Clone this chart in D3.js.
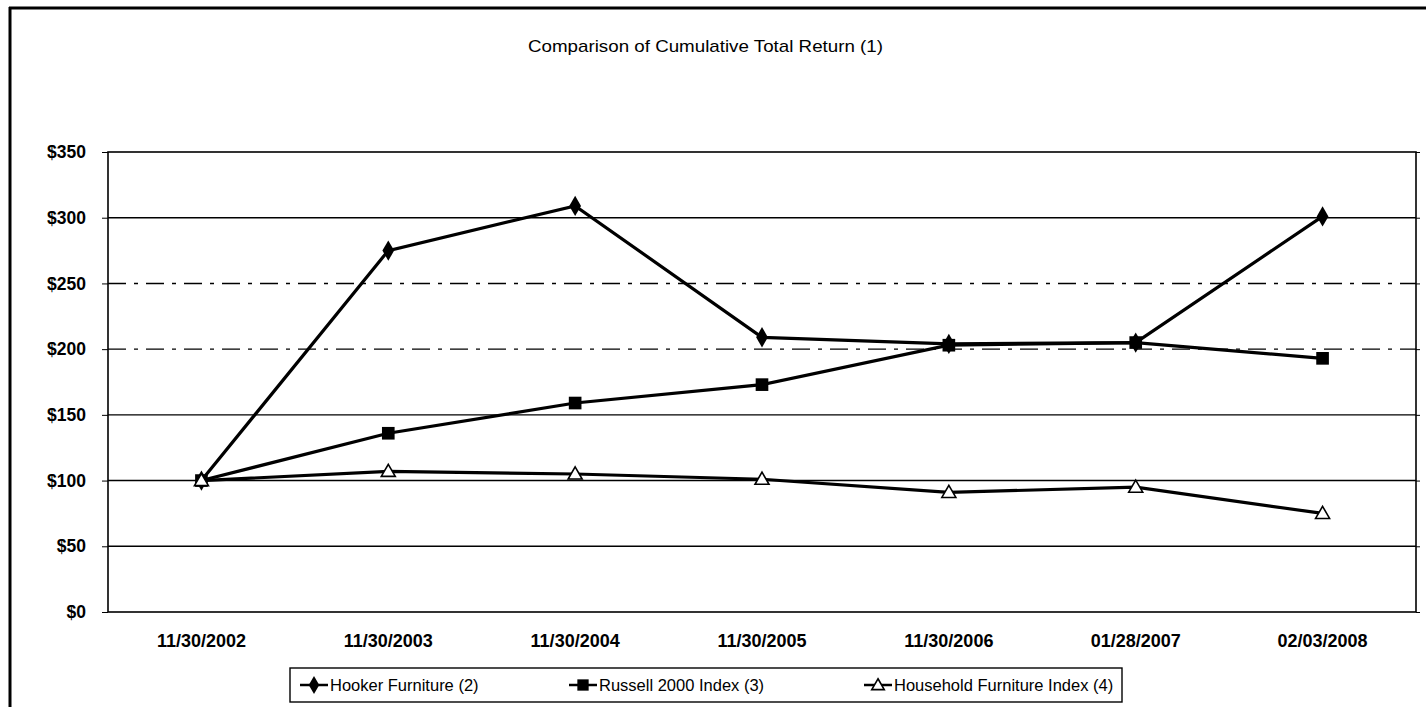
<!DOCTYPE html>
<html lang="en">
  <head>
    <meta charset="utf-8">
    <title>Comparison of Cumulative Total Return</title>
    <script src="https://d3js.org/d3.v7.js"></script>
    <style>
      body { margin: 0; background: white; }
      svg { display: block; }
      text { font-family: "Liberation Sans", Arial, sans-serif; fill: black; }
    </style>
  </head>

  <body>

  <script>

// data

  const dates = ["11/30/2002", "11/30/2003", "11/30/2004", "11/30/2005",
    "11/30/2006", "01/28/2007", "02/03/2008"];
  const hooker = [100, 275, 309, 209, 204, 205, 301];
  const russell = [100, 136, 159, 173, 203, 205, 193];
  const household = [100, 107, 105, 101, 91, 95, 75];
  const yTicks = [0, 50, 100, 150, 200, 250, 300, 350];
  const seriesNames = ["Hooker Furniture (2)", "Russell 2000 Index (3)", "Household Furniture Index (4)"];

  const seriesList = [
    {name: seriesNames[0], values: hooker, marker: "diamond"},
    {name: seriesNames[1], values: russell, marker: "square"},
    {name: seriesNames[2], values: household, marker: "triangle"}
  ];

  const w = 1426;
  const h = 707;
  const margin = {top: 152, right: 10, bottom: 95, left: 108};
  const innerWidth = w - margin.left - margin.right;
  const innerHeight = h - margin.top - margin.bottom;

  const xScale = d3.scaleBand()
      .domain(dates)
      .range([0, innerWidth]);

  const yScale = d3.scaleLinear()
      .domain([0, 350])
      .range([innerHeight, 0]);

  const svg = d3.select("body")
    .append("svg")
      .attr("width", w)
      .attr("height", h);

// outer frame (only top and left edges show in the scan)

  svg.append("line")
      .attr("x1", 9).attr("x2", w).attr("y1", 8).attr("y2", 8)
      .attr("stroke", "black").attr("stroke-width", 3);
  svg.append("line")
      .attr("x1", 10).attr("x2", 10).attr("y1", 7).attr("y2", h)
      .attr("stroke", "black").attr("stroke-width", 3);

  svg.append("text")
      .attr("x", 528)
      .attr("y", 52)
      .attr("textLength", 355)
      .attr("lengthAdjust", "spacingAndGlyphs")
      .attr("font-size", 17)
      .text("Comparison of Cumulative Total Return (1)");

  const plot = svg.append("g")
      .attr("transform", `translate (${margin.left}, ${margin.top})`);

// gridlines

  plot.append("g")
    .selectAll("line")
    .data(yTicks.filter(d => d > 0 && d < 350))
    .join("line")
      .attr("x1", 0)
      .attr("x2", innerWidth)
      .attr("y1", d => yScale(d))
      .attr("y2", d => yScale(d))
      .attr("stroke", "black")
      .attr("stroke-width", 1.4)
      .attr("stroke-dasharray", d => (d == 250 || d == 200) ? "18,8,4,8" : null);

  plot.append("rect")
      .attr("width", innerWidth)
      .attr("height", innerHeight)
      .attr("fill", "none")
      .attr("stroke", "black")
      .attr("stroke-width", 1.6);

// axes

  const yAxis = d3.axisLeft(yScale)
      .tickValues(yTicks)
      .tickSize(6)
      .tickPadding(16)
      .tickFormat(d => "$" + d);

  plot.append("g")
      .call(yAxis)
      .attr("font-family", null)
      .attr("font-size", 17.5)
      .attr("font-weight", "bold")
      .call(g => g.select(".domain").remove());

  plot.append("g")
      .attr("transform", `translate (${innerWidth}, 0)`)
      .call(d3.axisRight(yScale).tickValues(yTicks).tickSize(4).tickFormat(""))
      .call(g => g.select(".domain").remove());

  const xAxis = d3.axisBottom(xScale)
      .tickSize(0)
      .tickPadding(22);

  plot.append("g")
      .attr("transform", `translate (0, ${innerHeight})`)
      .call(xAxis)
      .attr("font-family", null)
      .attr("font-size", 18)
      .attr("font-weight", "bold")
      .call(g => g.select(".domain").remove());

// lines and markers

  const line = d3.line()
      .x((d, i) => xScale(dates[i]) + xScale.bandwidth() / 2)
      .y(d => yScale(d));

  function drawMarker(g, type, x, y, scale) {
    if (type == "diamond") {
      g.append("path")
          .attr("d", d3.symbol(d3.symbolDiamond, 120 * scale)())
          .attr("transform", `translate(${x},${y})`)
          .attr("fill", "black");
    } else if (type == "square") {
      g.append("path")
          .attr("d", d3.symbol(d3.symbolSquare, 160 * scale)())
          .attr("transform", `translate(${x},${y})`)
          .attr("fill", "black");
    } else {
      g.append("path")
          .attr("d", d3.symbol(d3.symbolTriangle, 85 * scale)())
          .attr("transform", `translate(${x},${y + 1})`)
          .attr("fill", "white")
          .attr("stroke", "black")
          .attr("stroke-width", 1.6);
    }
  }

  seriesList.forEach(s => {
    plot.append("path")
        .datum(s.values)
        .attr("d", line)
        .attr("fill", "none")
        .attr("stroke", "black")
        .attr("stroke-width", 3.2);
  });

  seriesList.forEach(s => {
    const g = plot.append("g");
    s.values.forEach((v, i) => {
      drawMarker(g, s.marker, xScale(dates[i]) + xScale.bandwidth() / 2, yScale(v), 1);
    });
  });

// legend, centred under the chart like the title

  const legend = svg.append("g");
  legend.append("rect")
      .attr("x", 290)
      .attr("y", 668)
      .attr("width", 832)
      .attr("height", 34)
      .attr("fill", "white")
      .attr("stroke", "black")
      .attr("stroke-width", 1.4);

  const legendX = [300, 569, 864];
  seriesList.forEach((s, i) => {
    const lx = legendX[i];
    legend.append("line")
        .attr("x1", lx).attr("x2", lx + 28)
        .attr("y1", 685).attr("y2", 685)
        .attr("stroke", "black")
        .attr("stroke-width", 2.5);
    drawMarker(legend, s.marker, lx + 14, 685, 0.8);
    legend.append("text")
        .attr("x", lx + 30)
        .attr("y", 691)
        .attr("font-size", 16.5)
        .text(s.name);
  });

    </script>

  </body>

</html>
